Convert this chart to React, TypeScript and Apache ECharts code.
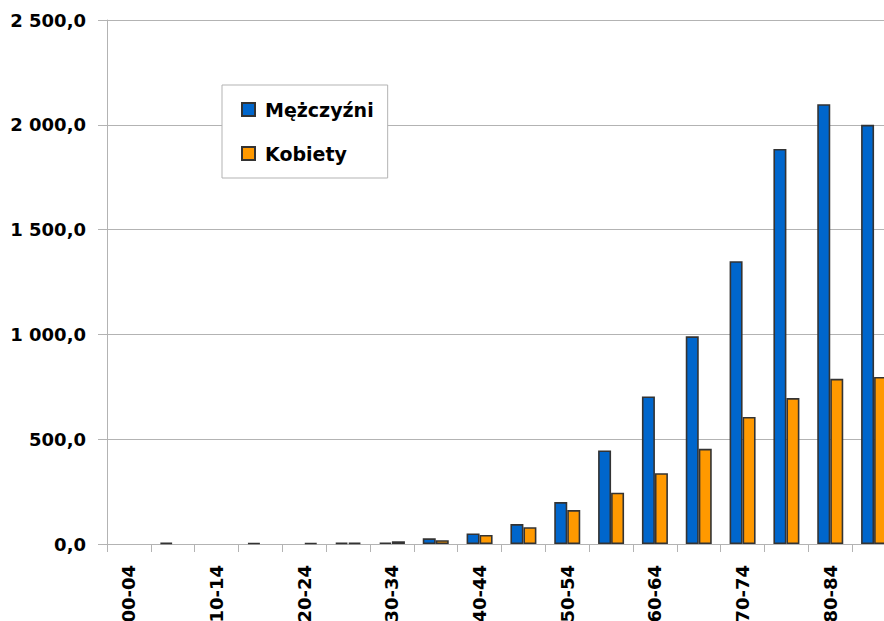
import React, { useEffect, useRef } from "react";
import * as echarts from "echarts";

const categories = ["00-04","05-09","10-14","15-19","20-24","25-29","30-34","35-39","40-44","45-49","50-54","55-59","60-64","65-69","70-74","75-79","80-84","85+"];
const men = [0, 6, 0, 5, 0, 6, 7, 27, 50, 95, 200, 446, 704, 991, 1349, 1885, 2098, 2000];
const women = [0, 0, 0, 0, 5, 6, 13, 18, 43, 80, 162, 245, 338, 454, 606, 696, 788, 797];
const seriesNames = ["Mężczyźni", "Kobiety"];
const colors = ["#0066cc", "#ff9900"];

function fmt(v: number): string {
  const s = v.toFixed(1).replace(".", ",");
  const [i, d] = s.split(",");
  return i.replace(/\B(?=(\d{3})+(?!\d))/g, " ") + "," + d;
}

const nz = (arr: number[]) => arr.map((v) => (v === 0 ? null : v));

export default function App() {
  const ref = useRef<HTMLDivElement>(null);
  useEffect(() => {
    const chart = echarts.init(ref.current!, null, { renderer: "svg" });
    const font = "DejaVu Sans";
    chart.setOption({
      animation: false,
      backgroundColor: "#ffffff",
      grid: { left: 107, top: 20, bottom: 77, right: 0, containLabel: false, outerBoundsMode: "none" },
      legend: {
        orient: "vertical",
        left: 222,
        top: 85,
        padding: [15, 14, 15, 19],
        backgroundColor: "#ffffff",
        borderColor: "#b3b3b3",
        borderWidth: 1,
        borderRadius: 0,
        itemWidth: 13,
        itemHeight: 13,
        itemGap: 25,
        icon: "rect",
        textStyle: {
          fontFamily: font,
          fontWeight: "bold",
          fontSize: 19,
          color: "#000",
          padding: [0, 0, 0, 5],
        },
        data: seriesNames,
      },
      xAxis: {
        type: "category",
        data: categories,
        boundaryGap: true,
        axisLine: { lineStyle: { color: "#b3b3b3" } },
        axisTick: { show: true, interval: 0, length: 8, lineStyle: { color: "#b3b3b3" } },
        axisLabel: {
          interval: 1,
          rotate: 90,
          margin: 21,
          fontFamily: font,
          fontWeight: "bold",
          fontSize: 18,
          color: "#000",
        },
      },
      yAxis: {
        type: "value",
        min: 0,
        max: 2500,
        interval: 500,
        axisLine: { show: true, lineStyle: { color: "#b3b3b3" } },
        axisTick: { show: true, length: 9, lineStyle: { color: "#b3b3b3" } },
        splitLine: { lineStyle: { color: "#b3b3b3" } },
        axisLabel: {
          margin: 21,
          fontFamily: font,
          fontWeight: "bold",
          fontSize: 18,
          color: "#000",
          formatter: (v: number) => fmt(v),
        },
      },
      series: [
        {
          name: seriesNames[0],
          type: "bar",
          data: nz(men),
          barWidth: 13,
          barGap: "0%",
          itemStyle: { color: colors[0], borderColor: "#333333", borderWidth: 1.6 },
        },
        {
          name: seriesNames[1],
          type: "bar",
          data: nz(women),
          barWidth: 13,
          barGap: "0%",
          itemStyle: { color: colors[1], borderColor: "#333333", borderWidth: 1.6 },
        },
      ],
    });
    return () => chart.dispose();
  }, []);
  return (
    <div style={{ position: "absolute", left: 0, top: 0, width: 884, height: 621, overflow: "hidden" }}>
      <div ref={ref} style={{ width: 896, height: 621 }} />
    </div>
  );
}
